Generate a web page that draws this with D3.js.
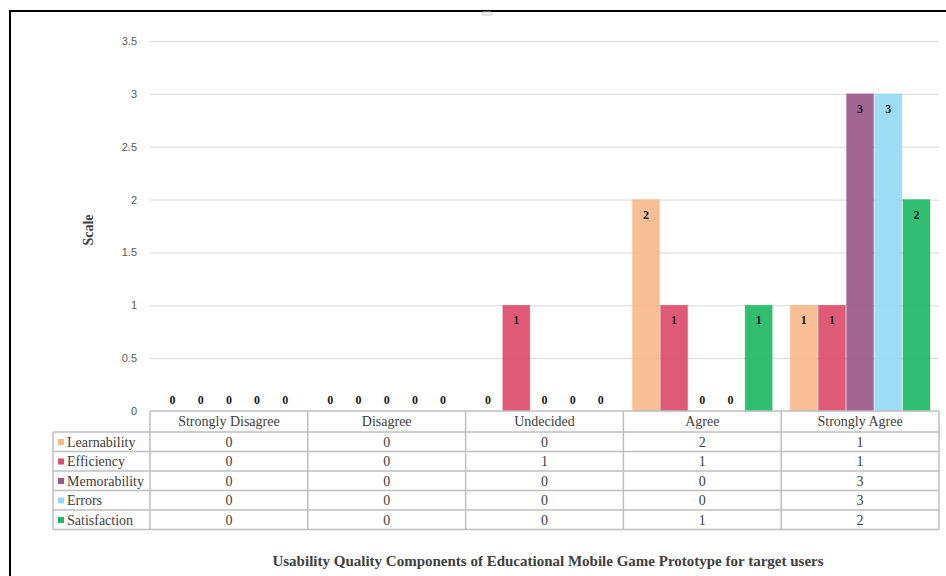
<!DOCTYPE html>
<html>
<head>
<meta charset="utf-8">
<script src="https://cdn.jsdelivr.net/npm/d3@7"></script>
<style>
  html, body { margin: 0; padding: 0; background: #fff; }
  svg { display: block; }
</style>
</head>
<body>
<svg id="chart" width="946" height="576"></svg>
<script>
// Response categories (x axis / table columns)
const categories = ["Strongly Disagree", "Disagree", "Undecided", "Agree", "Strongly Agree"];
// Usability components (series)
const seriesNames = ["Learnability", "Efficiency", "Memorability", "Errors", "Satisfaction"];
const seriesColors = ["#F7B98E", "#DC4D6C", "#9C5A8C", "#97D9F4", "#22B966"];
// Counts per category for each component
const learnability = [0, 0, 0, 2, 1];
const efficiency   = [0, 0, 1, 1, 1];
const memorability = [0, 0, 0, 0, 3];
const errors       = [0, 0, 0, 0, 3];
const satisfaction = [0, 0, 0, 1, 2];
const yTicks = [0, 0.5, 1, 1.5, 2, 2.5, 3, 3.5];
const yTickLabels = ["0", "0.5", "1", "1.5", "2", "2.5", "3", "3.5"];

const seriesValues = [learnability, efficiency, memorability, errors, satisfaction];
const series = seriesNames.map((name, i) => ({ name, color: seriesColors[i], values: seriesValues[i] }));

const svg = d3.select("#chart");
const serif = "Liberation Serif";
const sans = "Liberation Sans";

// Plot geometry
const plotLeft = 150, plotRight = 939, plotTop = 41, plotBottom = 411;
const legendLeft = 53;
const headerH = 21, rowH = 19.5;

const x0 = d3.scaleBand().domain(categories).range([plotLeft, plotRight]).padding(0);
const x1 = d3.scaleBand().domain(seriesNames).range([9, x0.bandwidth() - 9]).paddingInner(0.04);
const y = d3.scaleLinear().domain([0, 3.5]).range([plotBottom, plotTop]);

// Frame around the chart area
svg.append("path")
  .attr("d", `M10,576 L10,11 L946,11`)
  .attr("fill", "none").attr("stroke", "#000").attr("stroke-width", 2);
svg.append("rect")
  .attr("x", 482).attr("y", 12).attr("width", 10).attr("height", 3).attr("rx", 1.5)
  .attr("fill", "none").attr("stroke", "#c8c8c8").attr("stroke-width", 1);

// Horizontal gridlines + y tick labels
const yAxis = d3.axisLeft(y).tickValues(yTicks)
  .tickFormat((d, i) => yTickLabels[i])
  .tickSize(-(plotRight - plotLeft)).tickPadding(13);
const gy = svg.append("g").attr("transform", `translate(${plotLeft},0)`).call(yAxis);
gy.select(".domain").remove();
gy.selectAll(".tick line").attr("stroke", "#d9d9d9").attr("stroke-width", 1)
  .filter(d => d === 0).remove();
gy.selectAll(".tick text").attr("fill", "#595959").style("font-family", sans).style("font-size", "11px");

// Y axis title
svg.append("text")
  .attr("transform", `translate(93,${(plotTop + plotBottom) / 2 + 4}) rotate(-90)`)
  .attr("text-anchor", "middle")
  .style("font-family", serif).style("font-weight", "bold").style("font-size", "14px")
  .attr("fill", "#404040").text("Scale");

// Bars
const groups = svg.append("g").selectAll("g").data(categories).join("g")
  .attr("transform", d => `translate(${x0(d)},0)`);

groups.each(function (cat, ci) {
  const g = d3.select(this);
  series.forEach(s => {
    const v = s.values[ci];
    const bx = x1(s.name), bw = x1.bandwidth();
    if (v > 0) {
      g.append("rect")
        .attr("x", bx).attr("y", y(v))
        .attr("width", bw).attr("height", y(0) - y(v))
        .attr("fill", s.color).attr("fill-opacity", 0.93)
        .attr("stroke", s.color).attr("stroke-opacity", 0.35).attr("stroke-width", 1);
      g.append("text")
        .attr("x", bx + bw / 2).attr("y", y(v) + 19)
        .attr("text-anchor", "middle")
        .style("font-family", serif).style("font-weight", "bold").style("font-size", "12px")
        .attr("fill", "#1a1a1a").text(v);
    } else {
      g.append("text")
        .attr("x", bx + bw / 2).attr("y", y(0) - 7)
        .attr("text-anchor", "middle")
        .style("font-family", serif).style("font-weight", "bold").style("font-size", "12px")
        .attr("fill", "#1a1a1a").text(v);
    }
  });
});

// Data table beneath the plot
const table = svg.append("g");
const gridStroke = "#bfbfbf";
const tableBottom = plotBottom + headerH + rowH * series.length;

// Header row border
table.append("line").attr("x1", plotLeft).attr("x2", plotRight)
  .attr("y1", plotBottom).attr("y2", plotBottom)
  .attr("stroke", gridStroke).attr("stroke-width", 1.5);
// Row lines
series.forEach((s, i) => {
  const yy = plotBottom + headerH + rowH * i;
  table.append("line").attr("x1", legendLeft).attr("x2", plotRight)
    .attr("y1", yy).attr("y2", yy)
    .attr("stroke", gridStroke).attr("stroke-width", 1.5);
});
table.append("line").attr("x1", legendLeft).attr("x2", plotRight)
  .attr("y1", tableBottom).attr("y2", tableBottom)
  .attr("stroke", gridStroke).attr("stroke-width", 1.5);
// Vertical lines
table.append("line").attr("x1", legendLeft).attr("x2", legendLeft)
  .attr("y1", plotBottom + headerH).attr("y2", tableBottom)
  .attr("stroke", gridStroke).attr("stroke-width", 1.5);
categories.forEach(c => {
  table.append("line").attr("x1", x0(c)).attr("x2", x0(c))
    .attr("y1", plotBottom).attr("y2", tableBottom)
    .attr("stroke", gridStroke).attr("stroke-width", 1.5);
});
table.append("line").attr("x1", plotRight).attr("x2", plotRight)
  .attr("y1", plotBottom).attr("y2", tableBottom)
  .attr("stroke", gridStroke).attr("stroke-width", 1.5);

// Category headers
categories.forEach(c => {
  table.append("text")
    .attr("x", x0(c) + x0.bandwidth() / 2).attr("y", plotBottom + 15)
    .attr("text-anchor", "middle")
    .style("font-family", serif).style("font-size", "14px")
    .attr("fill", "#404040").text(c);
});

// Series rows: legend key, name, values
series.forEach((s, i) => {
  const top = plotBottom + headerH + rowH * i;
  table.append("rect")
    .attr("x", 58).attr("y", top + 7).attr("width", 6).attr("height", 6)
    .attr("fill", s.color);
  table.append("text")
    .attr("x", 67).attr("y", top + 14.5)
    .style("font-family", serif).style("font-size", "14px")
    .attr("fill", "#404040").text(s.name);
  categories.forEach((c, ci) => {
    table.append("text")
      .attr("x", x0(c) + x0.bandwidth() / 2).attr("y", top + 14.5)
      .attr("text-anchor", "middle")
      .style("font-family", serif).style("font-size", "14px")
      .attr("fill", "#404040").text(s.values[ci]);
  });
});

// Axis title
svg.append("text")
  .attr("x", 548).attr("y", 566)
  .attr("text-anchor", "middle")
  .style("font-family", serif).style("font-weight", "bold").style("font-size", "15px")
  .attr("fill", "#404040")
  .text("Usability Quality Components of Educational Mobile Game Prototype for target users");
</script>
</body>
</html>
